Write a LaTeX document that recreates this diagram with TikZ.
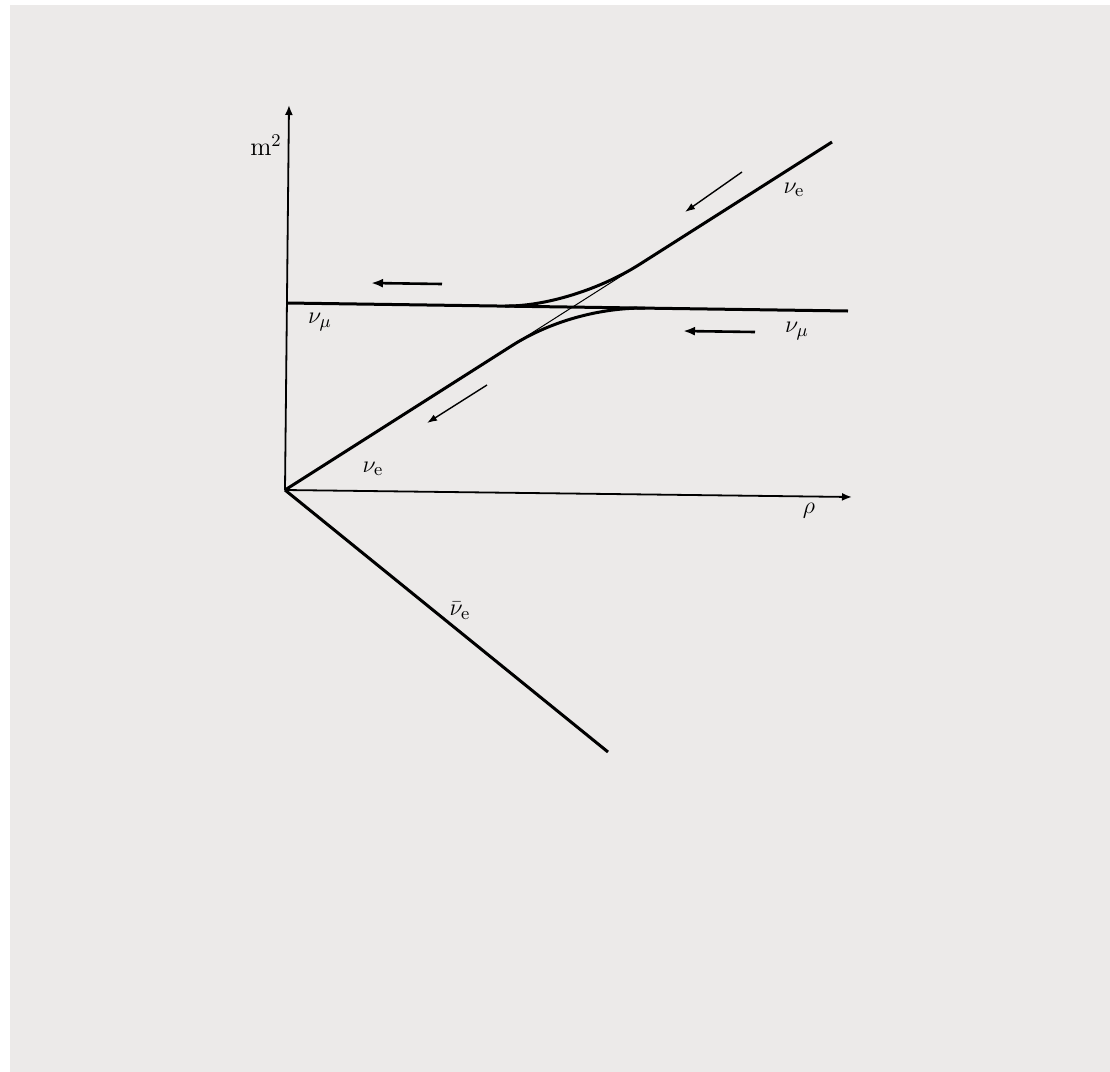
\documentclass[tikz,border=0pt]{standalone}
\usepackage{tikz}
\usetikzlibrary{arrows.meta,positioning}
\definecolor{paper}{RGB}{236,234,233}

\begin{document}
\begin{tikzpicture}[x=1pt,y=-1pt,scale=.5,
    branch/.style={line width=1.5pt},
    axisline/.style={line width=.9pt,-{Latex[length=5pt,width=4pt]}},
    flowthin/.style={line width=.7pt,-{Latex[length=5pt,width=3.5pt]}},
    flowthick/.style={line width=1.3pt,-{Latex[length=6pt,width=4.5pt]}},
    lbl/.style={font=\fontsize{13}{15}\selectfont,inner sep=0pt}]
    \useasboundingbox[fill=white] (0,0) rectangle (1110,1072);
    \fill[paper] (10,5) rectangle (1110,1072);
    % axes
    \coordinate (O) at (285,490);
    \coordinate (ytop) at (289,105);
    \coordinate (xend) at (852,497);
    \draw[axisline] (O) -- (ytop);
    \draw[axisline] (O) -- (xend);
    \node[lbl] (msq) at (266,145) {m$^2$}; %m2
    \node[lbl] (rho) at (809,511) {$\rho$}; %rho
    % antineutrino
    \coordinate (barend) at (608,752);
    \draw[branch] (O) -- (barend);
    \node[lbl] (nuebar) at (460,611) {$\bar{\nu}_{\mathrm{e}}$};
    % level crossing
    \coordinate (mul) at (287,303);
    \coordinate (mur) at (848,311);
    \coordinate (E) at (832,142);
    \coordinate (up0) at (505,306);
    \coordinate (up3) at (640,264.1);
    \coordinate (lo0) at (512,345.6);
    \coordinate (lo3) at (645,308.1);
    \draw[branch] (mul) -- (mur);
    \draw[branch] (up0) .. controls (545,306.6) and (600,289.6) .. (up3) -- (E);
    \draw[branch] (O) -- (lo0) .. controls (550,321.4) and (600,307.5) .. (lo3);
    \draw[line width=.5pt] (lo0) -- (up3);
    \node[lbl] (nuetop) at (794,190) {$\nu_{\mathrm{e}}$};
    \node[lbl] (numuleft) at (320,322) {$\nu_\mu$};
    \node[lbl] (numuright) at (797,331) {$\nu_\mu$};
    \node[lbl] (nuelow) at (373,469) {$\nu_{\mathrm{e}}$};
    % direction of travel
    \coordinate (a1s) at (742,172);
    \coordinate (a1e) at (685,212);
    \coordinate (a2s) at (442,284);
    \coordinate (a2e) at (371,283);
    \coordinate (a3s) at (755,332);
    \coordinate (a3e) at (683,331);
    \coordinate (a4s) at (487,385);
    \coordinate (a4e) at (427,423);
    \draw[flowthin] (a1s) -- (a1e);
    \draw[flowthick] (a2s) -- (a2e);
    \draw[flowthick] (a3s) -- (a3e);
    \draw[flowthin] (a4s) -- (a4e);
\end{tikzpicture}
\end{document}
